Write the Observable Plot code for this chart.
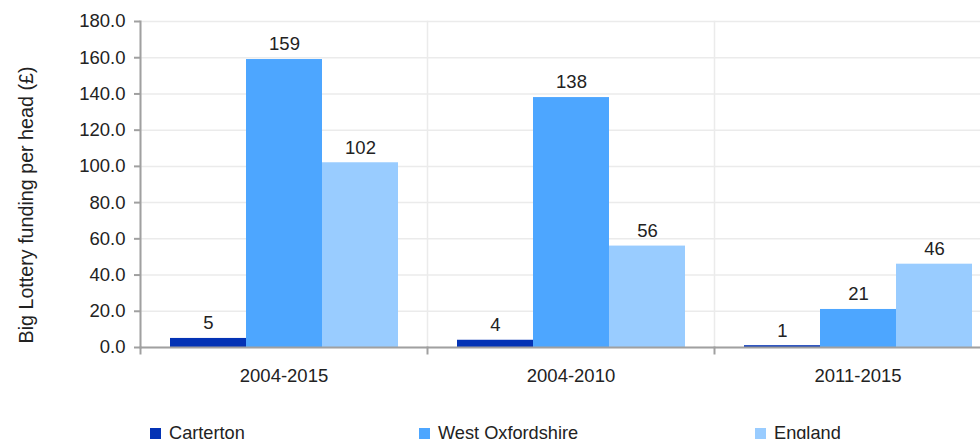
<!DOCTYPE html>
<html>
<head>
<meta charset="utf-8">
<script src="https://cdn.jsdelivr.net/npm/d3@7"></script>
<script src="https://cdn.jsdelivr.net/npm/@observablehq/plot@0.6"></script>
<style>
  html, body { margin: 0; padding: 0; background: #fff; overflow: hidden; }
  body { font-family: "Liberation Sans", Arial, sans-serif; width: 980px; }
  #legend { position: relative; height: 39px; font-size: 18.2px; color: #222; }
  .item { position: absolute; white-space: nowrap; }
  .sw { position: absolute; width: 11px; height: 11px; }
  .lb { position: absolute; line-height: 18px; }
</style>
</head>
<body>
<div id="chart"></div>
<div id="legend"></div>
<script>
const periods = ["2004-2015", "2004-2010", "2011-2015"];
const series = ["Carterton", "West Oxfordshire", "England"];
const carterton = [5, 4, 1];
const westOxfordshire = [159, 138, 21];
const england = [102, 56, 46];
const yTicks = [0, 20, 40, 60, 80, 100, 120, 140, 160, 180];
const colors = ["#0433b5", "#4da6ff", "#99ccff"];
const yLabel = "Big Lottery funding per head (£)";

const valuesBySeries = [carterton, westOxfordshire, england];
const data = [];
periods.forEach((p, i) => series.forEach((s, j) => data.push({period: p, series: s, value: valuesBySeries[j][i]})));

const chart = Plot.plot({
  width: 980,
  height: 400,
  marginLeft: 140,
  marginRight: -21,
  marginTop: 21,
  marginBottom: 53,
  style: {fontFamily: '"Liberation Sans", Arial, sans-serif', fontSize: "18.5px", color: "#222", background: "#fff"},
  fx: {domain: periods, padding: 0},
  x: {domain: series, paddingInner: 0, paddingOuter: 0.364, axis: null},
  y: {domain: [0, 180]},
  color: {domain: series, range: colors},
  marks: [
    Plot.gridY(yTicks, {stroke: "#ebebeb", strokeOpacity: 1, strokeWidth: 1.5}),
    Plot.frame({anchor: "left", stroke: "#ebebeb", strokeWidth: 1.5}),
    Plot.barY(data, {fx: "period", x: "series", y: "value", fill: "series"}),
    Plot.text(data, {fx: "period", x: "series", y: "value", text: d => String(Math.round(d.value)), dy: -15, fontSize: 18.5, fill: "#222"}),
    Plot.ruleY([0], {stroke: "#a0a0a0", strokeWidth: 2}),
    Plot.frame({anchor: "left", stroke: "#a0a0a0", strokeWidth: 2, facetAnchor: "left"}),
    Plot.frame({anchor: "left", stroke: "#a0a0a0", strokeWidth: 2, insetTop: 326, insetBottom: -6}),
    Plot.axisY(yTicks, {tickFormat: d3.format(".1f"), tickSize: 6, tickPadding: 9, stroke: "#a0a0a0", strokeWidth: 2, fill: "#222", fontSize: 18.5, label: null}),
    Plot.text([yLabel], {text: d => d, frameAnchor: "left", rotate: -90, lineAnchor: "top", textAnchor: "middle", dx: -122, dy: 20.5, fontSize: 19.7, fill: "#222", facetAnchor: "left"}),
    Plot.axisFx({anchor: "bottom", tickSize: 0, tickPadding: 21, fontSize: 18.5, fill: "#222", label: null})
  ]
});
document.getElementById("chart").appendChild(chart);

const legendLeft = [150, 419, 755];
const legend = document.getElementById("legend");
series.forEach((s, i) => {
  const item = document.createElement("div");
  item.className = "item";
  item.style.left = legendLeft[i] + "px";
  item.style.top = "0px";
  const sw = document.createElement("div");
  sw.className = "sw";
  sw.style.background = colors[i];
  sw.style.left = "0px";
  sw.style.top = "28px";
  const lb = document.createElement("div");
  lb.className = "lb";
  lb.style.left = "19px";
  lb.style.top = "23.6px";
  lb.textContent = s;
  item.appendChild(sw);
  item.appendChild(lb);
  legend.appendChild(item);
});
</script>
</body>
</html>
